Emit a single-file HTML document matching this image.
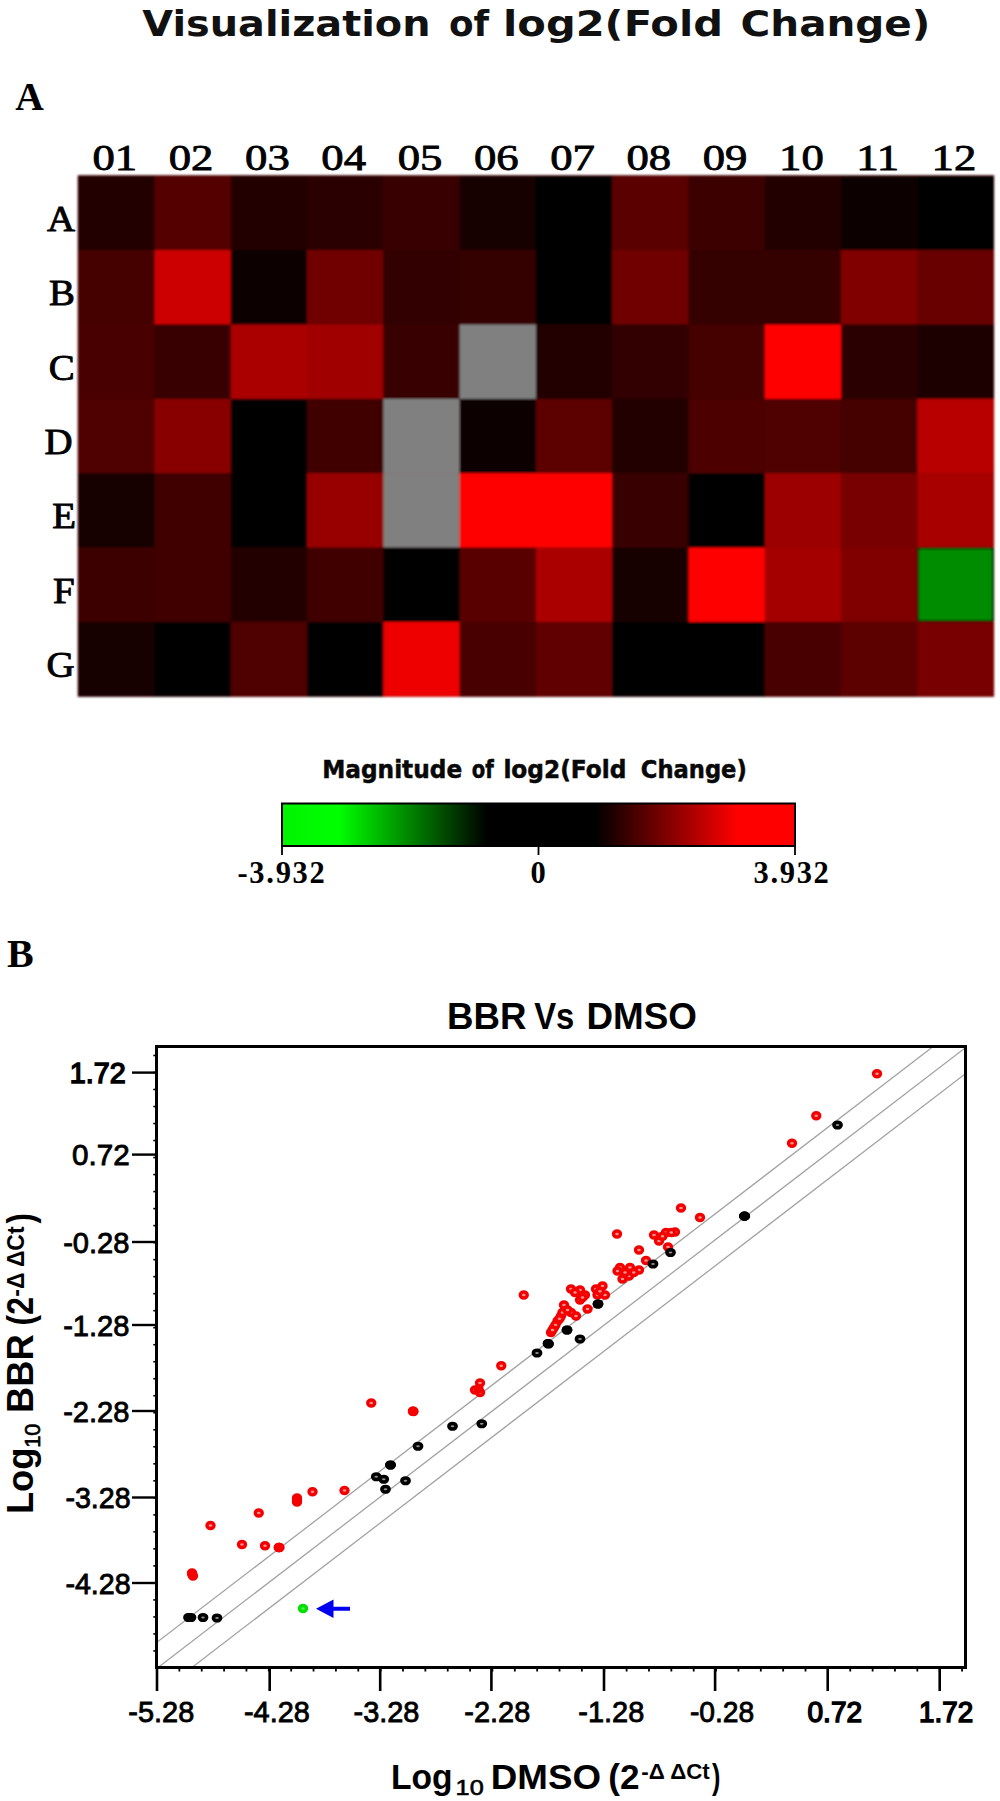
<!DOCTYPE html>
<html lang="en">
<head>
<meta charset="utf-8">
<title>Visualization of log2(Fold Change)</title>
<style>
html,body{margin:0;padding:0;background:#fff;}
body{width:1000px;height:1801px;overflow:hidden;position:relative;}
svg{position:absolute;left:0;top:0;display:block;}
.sans{font-family:"Liberation Sans",sans-serif;}
.serif{font-family:"Liberation Serif",serif;}
.dv{font-family:"DejaVu Sans","Liberation Sans",sans-serif;}
</style>
</head>
<body>
<svg width="1000" height="1801" viewBox="0 0 1000 1801">
<defs>
<linearGradient id="cb" x1="0" y1="0" x2="1" y2="0">
<stop offset="0" stop-color="#00f400"/>
<stop offset="0.11" stop-color="#00ff00"/>
<stop offset="0.40" stop-color="#000000"/>
<stop offset="0.61" stop-color="#000000"/>
<stop offset="0.89" stop-color="#ff0000"/>
<stop offset="1" stop-color="#ff0000"/>
</linearGradient>
<filter id="soft" x="-2%" y="-2%" width="104%" height="104%"><feGaussianBlur stdDeviation="0.8"/></filter>
<filter id="soft2" x="-5%" y="-5%" width="110%" height="110%"><feGaussianBlur stdDeviation="0.45"/></filter>
</defs>

<g id="panelA">
<text class="dv" y="35.5" font-size="35" font-weight="700" fill="#111"><tspan x="142.3" textLength="288.21" lengthAdjust="spacingAndGlyphs">Visualization</tspan> <tspan x="448.98" textLength="40.15" lengthAdjust="spacingAndGlyphs">of</tspan> <tspan x="503.07" textLength="219.94" lengthAdjust="spacingAndGlyphs">log2(Fold</tspan> <tspan x="740.57" textLength="189.81" lengthAdjust="spacingAndGlyphs">Change)</tspan></text>
<text class="serif" x="29.5" y="109.8" font-size="39.5" font-weight="700" text-anchor="middle">A</text>
<g filter="url(#soft)">
<rect x="77.7" y="175.3" width="916.4" height="521.4" fill="#500000"/>
<rect x="78.2" y="175.8" width="76.58" height="74.64" fill="#200000"/>
<rect x="154.48" y="175.8" width="76.58" height="74.64" fill="#550000"/>
<rect x="230.77" y="175.8" width="76.58" height="74.64" fill="#200000"/>
<rect x="307.05" y="175.8" width="76.58" height="74.64" fill="#2a0000"/>
<rect x="383.33" y="175.8" width="76.58" height="74.64" fill="#380000"/>
<rect x="459.62" y="175.8" width="76.58" height="74.64" fill="#140000"/>
<rect x="535.9" y="175.8" width="76.58" height="74.64" fill="#000000"/>
<rect x="612.18" y="175.8" width="76.58" height="74.64" fill="#5a0000"/>
<rect x="688.47" y="175.8" width="76.58" height="74.64" fill="#3e0000"/>
<rect x="764.75" y="175.8" width="76.58" height="74.64" fill="#220000"/>
<rect x="841.03" y="175.8" width="76.58" height="74.64" fill="#0c0000"/>
<rect x="917.32" y="175.8" width="76.58" height="74.64" fill="#000000"/>
<rect x="78.2" y="250.14" width="76.58" height="74.64" fill="#450000"/>
<rect x="154.48" y="250.14" width="76.58" height="74.64" fill="#cc0000"/>
<rect x="230.77" y="250.14" width="76.58" height="74.64" fill="#0c0000"/>
<rect x="307.05" y="250.14" width="76.58" height="74.64" fill="#700000"/>
<rect x="383.33" y="250.14" width="76.58" height="74.64" fill="#300000"/>
<rect x="459.62" y="250.14" width="76.58" height="74.64" fill="#350000"/>
<rect x="535.9" y="250.14" width="76.58" height="74.64" fill="#040000"/>
<rect x="612.18" y="250.14" width="76.58" height="74.64" fill="#700000"/>
<rect x="688.47" y="250.14" width="76.58" height="74.64" fill="#350000"/>
<rect x="764.75" y="250.14" width="76.58" height="74.64" fill="#350000"/>
<rect x="841.03" y="250.14" width="76.58" height="74.64" fill="#800000"/>
<rect x="917.32" y="250.14" width="76.58" height="74.64" fill="#680000"/>
<rect x="78.2" y="324.49" width="76.58" height="74.64" fill="#480000"/>
<rect x="154.48" y="324.49" width="76.58" height="74.64" fill="#380000"/>
<rect x="230.77" y="324.49" width="76.58" height="74.64" fill="#aa0000"/>
<rect x="307.05" y="324.49" width="76.58" height="74.64" fill="#a00000"/>
<rect x="383.33" y="324.49" width="76.58" height="74.64" fill="#380000"/>
<rect x="459.62" y="324.49" width="76.58" height="74.64" fill="#808080"/>
<rect x="535.9" y="324.49" width="76.58" height="74.64" fill="#200000"/>
<rect x="612.18" y="324.49" width="76.58" height="74.64" fill="#300000"/>
<rect x="688.47" y="324.49" width="76.58" height="74.64" fill="#440000"/>
<rect x="764.75" y="324.49" width="76.58" height="74.64" fill="#ff0000"/>
<rect x="841.03" y="324.49" width="76.58" height="74.64" fill="#2a0000"/>
<rect x="917.32" y="324.49" width="76.58" height="74.64" fill="#1c0000"/>
<rect x="78.2" y="398.83" width="76.58" height="74.64" fill="#500000"/>
<rect x="154.48" y="398.83" width="76.58" height="74.64" fill="#880000"/>
<rect x="230.77" y="398.83" width="76.58" height="74.64" fill="#000000"/>
<rect x="307.05" y="398.83" width="76.58" height="74.64" fill="#400000"/>
<rect x="383.33" y="398.83" width="76.58" height="74.64" fill="#808080"/>
<rect x="459.62" y="398.83" width="76.58" height="74.64" fill="#100000"/>
<rect x="535.9" y="398.83" width="76.58" height="74.64" fill="#5c0000"/>
<rect x="612.18" y="398.83" width="76.58" height="74.64" fill="#200000"/>
<rect x="688.47" y="398.83" width="76.58" height="74.64" fill="#4e0000"/>
<rect x="764.75" y="398.83" width="76.58" height="74.64" fill="#500000"/>
<rect x="841.03" y="398.83" width="76.58" height="74.64" fill="#440000"/>
<rect x="917.32" y="398.83" width="76.58" height="74.64" fill="#b80000"/>
<rect x="78.2" y="473.17" width="76.58" height="74.64" fill="#150000"/>
<rect x="154.48" y="473.17" width="76.58" height="74.64" fill="#400000"/>
<rect x="230.77" y="473.17" width="76.58" height="74.64" fill="#000000"/>
<rect x="307.05" y="473.17" width="76.58" height="74.64" fill="#980000"/>
<rect x="383.33" y="473.17" width="76.58" height="74.64" fill="#808080"/>
<rect x="459.62" y="473.17" width="76.58" height="74.64" fill="#ff0000"/>
<rect x="535.9" y="473.17" width="76.58" height="74.64" fill="#ff0000"/>
<rect x="612.18" y="473.17" width="76.58" height="74.64" fill="#380000"/>
<rect x="688.47" y="473.17" width="76.58" height="74.64" fill="#000000"/>
<rect x="764.75" y="473.17" width="76.58" height="74.64" fill="#9c0000"/>
<rect x="841.03" y="473.17" width="76.58" height="74.64" fill="#780000"/>
<rect x="917.32" y="473.17" width="76.58" height="74.64" fill="#a80000"/>
<rect x="78.2" y="547.51" width="76.58" height="74.64" fill="#3e0000"/>
<rect x="154.48" y="547.51" width="76.58" height="74.64" fill="#400000"/>
<rect x="230.77" y="547.51" width="76.58" height="74.64" fill="#200000"/>
<rect x="307.05" y="547.51" width="76.58" height="74.64" fill="#400000"/>
<rect x="383.33" y="547.51" width="76.58" height="74.64" fill="#000000"/>
<rect x="459.62" y="547.51" width="76.58" height="74.64" fill="#580000"/>
<rect x="535.9" y="547.51" width="76.58" height="74.64" fill="#aa0000"/>
<rect x="612.18" y="547.51" width="76.58" height="74.64" fill="#180000"/>
<rect x="688.47" y="547.51" width="76.58" height="74.64" fill="#ff0000"/>
<rect x="764.75" y="547.51" width="76.58" height="74.64" fill="#a40000"/>
<rect x="841.03" y="547.51" width="76.58" height="74.64" fill="#800000"/>
<rect x="917.32" y="547.51" width="76.58" height="74.64" fill="#008c00"/>
<rect x="78.2" y="621.86" width="76.58" height="74.64" fill="#150000"/>
<rect x="154.48" y="621.86" width="76.58" height="74.64" fill="#000000"/>
<rect x="230.77" y="621.86" width="76.58" height="74.64" fill="#500000"/>
<rect x="307.05" y="621.86" width="76.58" height="74.64" fill="#000000"/>
<rect x="383.33" y="621.86" width="76.58" height="74.64" fill="#ee0000"/>
<rect x="459.62" y="621.86" width="76.58" height="74.64" fill="#4a0000"/>
<rect x="535.9" y="621.86" width="76.58" height="74.64" fill="#600000"/>
<rect x="612.18" y="621.86" width="76.58" height="74.64" fill="#000000"/>
<rect x="688.47" y="621.86" width="76.58" height="74.64" fill="#000000"/>
<rect x="764.75" y="621.86" width="76.58" height="74.64" fill="#480000"/>
<rect x="841.03" y="621.86" width="76.58" height="74.64" fill="#5c0000"/>
<rect x="917.32" y="621.86" width="76.58" height="74.64" fill="#780000"/>
<rect x="918.12" y="548.31" width="74.68" height="72.74" fill="none" stroke="#000" stroke-width="1.6"/>
</g>
<text class="serif" transform="translate(114.84,170.2) scale(1.27,1)" font-size="35.2" text-anchor="middle" stroke="#000" stroke-width="0.8">01</text>
<text class="serif" transform="translate(191.12,170.2) scale(1.27,1)" font-size="35.2" text-anchor="middle" stroke="#000" stroke-width="0.8">02</text>
<text class="serif" transform="translate(267.41,170.2) scale(1.27,1)" font-size="35.2" text-anchor="middle" stroke="#000" stroke-width="0.8">03</text>
<text class="serif" transform="translate(343.69,170.2) scale(1.27,1)" font-size="35.2" text-anchor="middle" stroke="#000" stroke-width="0.8">04</text>
<text class="serif" transform="translate(419.97,170.2) scale(1.27,1)" font-size="35.2" text-anchor="middle" stroke="#000" stroke-width="0.8">05</text>
<text class="serif" transform="translate(496.26,170.2) scale(1.27,1)" font-size="35.2" text-anchor="middle" stroke="#000" stroke-width="0.8">06</text>
<text class="serif" transform="translate(572.54,170.2) scale(1.27,1)" font-size="35.2" text-anchor="middle" stroke="#000" stroke-width="0.8">07</text>
<text class="serif" transform="translate(648.83,170.2) scale(1.27,1)" font-size="35.2" text-anchor="middle" stroke="#000" stroke-width="0.8">08</text>
<text class="serif" transform="translate(725.11,170.2) scale(1.27,1)" font-size="35.2" text-anchor="middle" stroke="#000" stroke-width="0.8">09</text>
<text class="serif" transform="translate(801.39,170.2) scale(1.27,1)" font-size="35.2" text-anchor="middle" stroke="#000" stroke-width="0.8">10</text>
<text class="serif" transform="translate(877.68,170.2) scale(1.27,1)" font-size="35.2" text-anchor="middle" stroke="#000" stroke-width="0.8">11</text>
<text class="serif" transform="translate(953.96,170.2) scale(1.27,1)" font-size="35.2" text-anchor="middle" stroke="#000" stroke-width="0.8">12</text>
<text class="serif" transform="translate(75.1,230.97) scale(1.08,1)" font-size="36" text-anchor="end" stroke="#000" stroke-width="0.9">A</text>
<text class="serif" transform="translate(74.9,305.31) scale(1.08,1)" font-size="36" text-anchor="end" stroke="#000" stroke-width="0.9">B</text>
<text class="serif" transform="translate(74.6,379.66) scale(1.08,1)" font-size="36" text-anchor="end" stroke="#000" stroke-width="0.9">C</text>
<text class="serif" transform="translate(72.6,454) scale(1.08,1)" font-size="36" text-anchor="end" stroke="#000" stroke-width="0.9">D</text>
<text class="serif" transform="translate(76.1,528.34) scale(1.08,1)" font-size="36" text-anchor="end" stroke="#000" stroke-width="0.9">E</text>
<text class="serif" transform="translate(74.6,602.69) scale(1.08,1)" font-size="36" text-anchor="end" stroke="#000" stroke-width="0.9">F</text>
<text class="serif" transform="translate(74.6,677.03) scale(1.08,1)" font-size="36" text-anchor="end" stroke="#000" stroke-width="0.9">G</text>
<text class="dv" y="778.4" font-size="24" font-weight="700" fill="#080808" stroke="#080808" stroke-width="0.5"><tspan x="322.16" textLength="139.99" lengthAdjust="spacingAndGlyphs">Magnitude</tspan> <tspan x="471.67" textLength="22.03" lengthAdjust="spacingAndGlyphs">of</tspan> <tspan x="503.38" textLength="123.08" lengthAdjust="spacingAndGlyphs">log2(Fold</tspan> <tspan x="640.83" textLength="105.97" lengthAdjust="spacingAndGlyphs">Change)</tspan></text>
<rect x="282" y="803.5" width="513" height="42.5" fill="url(#cb)" stroke="#000" stroke-width="2"/>
<rect x="281.1" y="846" width="1.8" height="9" fill="#000"/>
<rect x="537.6" y="846" width="1.8" height="9" fill="#000"/>
<rect x="794.1" y="846" width="1.8" height="9" fill="#000"/>
<text class="serif" x="282" y="882.5" font-size="30.5" font-weight="700" text-anchor="middle" letter-spacing="1.7">-3.932</text>
<text class="serif" x="538" y="882.5" font-size="30.5" font-weight="700" text-anchor="middle">0</text>
<text class="serif" x="792" y="882.5" font-size="30.5" font-weight="700" text-anchor="middle" letter-spacing="1.7">3.932</text>
</g>
<g id="panelB">
<text class="serif" x="20.3" y="967.2" font-size="40" font-weight="700" text-anchor="middle">B</text>
<text class="sans" y="1028.7" font-size="36.2" font-weight="700"><tspan x="447.12" textLength="79.48" lengthAdjust="spacingAndGlyphs">BBR</tspan> <tspan x="534.14" textLength="40.12" lengthAdjust="spacingAndGlyphs">Vs</tspan> <tspan x="586.51" textLength="110.47" lengthAdjust="spacingAndGlyphs">DMSO</tspan></text>
<clipPath id="pc"><rect x="156.5" y="1046.5" width="809" height="621"/></clipPath>
<g stroke="#a2a2a2" stroke-width="1.25" fill="none" clip-path="url(#pc)">
<line x1="116.5" y1="1699.4" x2="1005.5" y2="1017"/>
<line x1="116.5" y1="1673.4" x2="1005.5" y2="991"/>
<line x1="116.5" y1="1725.4" x2="1005.5" y2="1043"/>
</g>
<g filter="url(#soft2)">
<g fill="#ff9090" stroke="#f40000" stroke-width="3.4">
<ellipse cx="192" cy="1573" rx="3.5" ry="3"/>
<ellipse cx="193" cy="1576" rx="3.5" ry="3"/>
<ellipse cx="210.5" cy="1525.5" rx="3.5" ry="3"/>
<ellipse cx="242" cy="1544.5" rx="3.5" ry="3"/>
<ellipse cx="258.75" cy="1513" rx="3.5" ry="3"/>
<ellipse cx="265" cy="1545.75" rx="3.5" ry="3"/>
<ellipse cx="278.75" cy="1547.5" rx="3.5" ry="3"/>
<ellipse cx="279.5" cy="1547.5" rx="3.5" ry="3"/>
<ellipse cx="297" cy="1498" rx="3.5" ry="3"/>
<ellipse cx="297" cy="1502" rx="3.5" ry="3"/>
<ellipse cx="312.5" cy="1491.75" rx="3.5" ry="3"/>
<ellipse cx="344.5" cy="1490.5" rx="3.5" ry="3"/>
<ellipse cx="371.25" cy="1403" rx="3.5" ry="3"/>
<ellipse cx="413" cy="1411.25" rx="3.5" ry="3"/>
<ellipse cx="413.5" cy="1411.5" rx="3.5" ry="3"/>
<ellipse cx="480" cy="1383" rx="3.5" ry="3"/>
<ellipse cx="475" cy="1390" rx="3.5" ry="3"/>
<ellipse cx="480" cy="1392.5" rx="3.5" ry="3"/>
<ellipse cx="501.25" cy="1365.75" rx="3.5" ry="3"/>
<ellipse cx="523.75" cy="1295" rx="3.5" ry="3"/>
<ellipse cx="551" cy="1332.5" rx="3.5" ry="3"/>
<ellipse cx="554" cy="1327.5" rx="3.5" ry="3"/>
<ellipse cx="557.5" cy="1321" rx="3.5" ry="3"/>
<ellipse cx="561" cy="1316" rx="3.5" ry="3"/>
<ellipse cx="564" cy="1305" rx="3.5" ry="3"/>
<ellipse cx="571" cy="1312.5" rx="3.5" ry="3"/>
<ellipse cx="576" cy="1316" rx="3.5" ry="3"/>
<ellipse cx="587.5" cy="1309" rx="3.5" ry="3"/>
<ellipse cx="580" cy="1300" rx="3.5" ry="3"/>
<ellipse cx="585" cy="1295" rx="3.5" ry="3"/>
<ellipse cx="571" cy="1289" rx="3.5" ry="3"/>
<ellipse cx="580" cy="1290" rx="3.5" ry="3"/>
<ellipse cx="596" cy="1289" rx="3.5" ry="3"/>
<ellipse cx="602.5" cy="1286" rx="3.5" ry="3"/>
<ellipse cx="605" cy="1295" rx="3.5" ry="3"/>
<ellipse cx="597.5" cy="1295" rx="3.5" ry="3"/>
<ellipse cx="617" cy="1234" rx="3.5" ry="3"/>
<ellipse cx="620" cy="1267.5" rx="3.5" ry="3"/>
<ellipse cx="622.5" cy="1279" rx="3.5" ry="3"/>
<ellipse cx="629" cy="1276" rx="3.5" ry="3"/>
<ellipse cx="630" cy="1267.5" rx="3.5" ry="3"/>
<ellipse cx="639" cy="1270" rx="3.5" ry="3"/>
<ellipse cx="617.5" cy="1271" rx="3.5" ry="3"/>
<ellipse cx="639" cy="1250" rx="3.5" ry="3"/>
<ellipse cx="646" cy="1260.5" rx="3.5" ry="3"/>
<ellipse cx="654" cy="1235" rx="3.5" ry="3"/>
<ellipse cx="659" cy="1241" rx="3.5" ry="3"/>
<ellipse cx="666" cy="1232.5" rx="3.5" ry="3"/>
<ellipse cx="675" cy="1232" rx="3.5" ry="3"/>
<ellipse cx="668" cy="1247" rx="3.5" ry="3"/>
<ellipse cx="681" cy="1208" rx="3.5" ry="3"/>
<ellipse cx="700" cy="1217.5" rx="3.5" ry="3"/>
<ellipse cx="877" cy="1073.75" rx="3.5" ry="3"/>
<ellipse cx="816.25" cy="1115.75" rx="3.5" ry="3"/>
<ellipse cx="792" cy="1143.25" rx="3.5" ry="3"/>
<ellipse cx="555.5" cy="1325" rx="3.5" ry="3"/>
<ellipse cx="559.5" cy="1318.75" rx="3.5" ry="3"/>
<ellipse cx="552.5" cy="1330" rx="3.5" ry="3"/>
<ellipse cx="575" cy="1292.5" rx="3.5" ry="3"/>
<ellipse cx="582.5" cy="1297.5" rx="3.5" ry="3"/>
<ellipse cx="600" cy="1291.25" rx="3.5" ry="3"/>
<ellipse cx="625" cy="1272.5" rx="3.5" ry="3"/>
<ellipse cx="633.75" cy="1272.5" rx="3.5" ry="3"/>
<ellipse cx="662.5" cy="1236.25" rx="3.5" ry="3"/>
<ellipse cx="671.25" cy="1232.5" rx="3.5" ry="3"/>
<ellipse cx="562.5" cy="1312.5" rx="3.5" ry="3"/>
<ellipse cx="567.5" cy="1310" rx="3.5" ry="3"/>
</g>
<g fill="#909090" stroke="#000000" stroke-width="3.6">
<ellipse cx="188.5" cy="1617.5" rx="3.6" ry="2.8"/>
<ellipse cx="191" cy="1617.5" rx="3.6" ry="2.8"/>
<ellipse cx="203" cy="1617.5" rx="3.6" ry="2.8"/>
<ellipse cx="217" cy="1618" rx="3.6" ry="2.8"/>
<ellipse cx="376.25" cy="1476.75" rx="3.6" ry="2.8"/>
<ellipse cx="383.75" cy="1479.25" rx="3.6" ry="2.8"/>
<ellipse cx="385.5" cy="1489.25" rx="3.6" ry="2.8"/>
<ellipse cx="390.5" cy="1465" rx="3.6" ry="2.8"/>
<ellipse cx="405.5" cy="1480.75" rx="3.6" ry="2.8"/>
<ellipse cx="418" cy="1446.25" rx="3.6" ry="2.8"/>
<ellipse cx="452.5" cy="1426.25" rx="3.6" ry="2.8"/>
<ellipse cx="481.75" cy="1423.75" rx="3.6" ry="2.8"/>
<ellipse cx="537" cy="1353" rx="3.6" ry="2.8"/>
<ellipse cx="548" cy="1343.5" rx="3.6" ry="2.8"/>
<ellipse cx="548.5" cy="1344" rx="3.6" ry="2.8"/>
<ellipse cx="567" cy="1330" rx="3.6" ry="2.8"/>
<ellipse cx="580" cy="1339" rx="3.6" ry="2.8"/>
<ellipse cx="598" cy="1304" rx="3.6" ry="2.8"/>
<ellipse cx="653" cy="1264" rx="3.6" ry="2.8"/>
<ellipse cx="670.5" cy="1252.5" rx="3.6" ry="2.8"/>
<ellipse cx="744.3" cy="1216.2" rx="3.6" ry="2.8"/>
<ellipse cx="744.8" cy="1216.2" rx="3.6" ry="2.8"/>
<ellipse cx="837.5" cy="1125" rx="3.6" ry="2.8"/>
</g>
<g fill="#f40000" stroke="#f40000" stroke-width="3.4">
<ellipse cx="413" cy="1411.25" rx="3.5" ry="3"/>
<ellipse cx="279" cy="1547.5" rx="3.5" ry="3"/>
<ellipse cx="192.3" cy="1574.5" rx="3.5" ry="3"/>
<ellipse cx="297" cy="1500" rx="3.5" ry="3"/>
<ellipse cx="478.5" cy="1389" rx="3.5" ry="3"/>
</g>
<g fill="#000" stroke="#000" stroke-width="3.6">
<ellipse cx="390.5" cy="1465" rx="3.6" ry="2.8"/>
<ellipse cx="548.2" cy="1343.7" rx="3.6" ry="2.8"/>
<ellipse cx="744.5" cy="1216.2" rx="3.6" ry="2.8"/>
<ellipse cx="189.5" cy="1617.5" rx="3.6" ry="2.8"/>
<ellipse cx="598" cy="1304" rx="3.6" ry="2.8"/>
<ellipse cx="567" cy="1330" rx="3.6" ry="2.8"/>
</g>
<g fill="#50f050" stroke="#00e000" stroke-width="3.4">
<ellipse cx="303" cy="1608.5" rx="3.5" ry="3"/>
</g>
<path d="M316,1608.7 L333.5,1599.5 L333.5,1606.7 L350,1606.7 L350,1610.7 L333.5,1610.7 L333.5,1618 Z" fill="#0000f0"/>
</g>
<rect x="156.5" y="1046.5" width="809" height="621" fill="none" stroke="#000" stroke-width="3"/>
<g fill="#000">
<rect x="132" y="1071.4" width="24" height="2.4"/>
<rect x="132" y="1153.4" width="24" height="2.4"/>
<rect x="132" y="1240.8" width="24" height="2.4"/>
<rect x="132" y="1323.8" width="24" height="2.4"/>
<rect x="132" y="1409.8" width="24" height="2.4"/>
<rect x="132" y="1496.3" width="24" height="2.4"/>
<rect x="132" y="1581.8" width="24" height="2.4"/>
<rect x="153.3" y="1054.69" width="3" height="1.6"/>
<rect x="153.3" y="1071.7" width="3" height="1.6"/>
<rect x="153.3" y="1088.71" width="3" height="1.6"/>
<rect x="153.3" y="1105.73" width="3" height="1.6"/>
<rect x="153.3" y="1122.74" width="3" height="1.6"/>
<rect x="153.3" y="1139.75" width="3" height="1.6"/>
<rect x="153.3" y="1156.77" width="3" height="1.6"/>
<rect x="153.3" y="1173.78" width="3" height="1.6"/>
<rect x="153.3" y="1190.79" width="3" height="1.6"/>
<rect x="153.3" y="1207.81" width="3" height="1.6"/>
<rect x="153.3" y="1224.82" width="3" height="1.6"/>
<rect x="153.3" y="1241.83" width="3" height="1.6"/>
<rect x="153.3" y="1258.85" width="3" height="1.6"/>
<rect x="153.3" y="1275.86" width="3" height="1.6"/>
<rect x="153.3" y="1292.87" width="3" height="1.6"/>
<rect x="153.3" y="1309.89" width="3" height="1.6"/>
<rect x="153.3" y="1326.9" width="3" height="1.6"/>
<rect x="153.3" y="1343.91" width="3" height="1.6"/>
<rect x="153.3" y="1360.93" width="3" height="1.6"/>
<rect x="153.3" y="1377.94" width="3" height="1.6"/>
<rect x="153.3" y="1394.95" width="3" height="1.6"/>
<rect x="153.3" y="1411.97" width="3" height="1.6"/>
<rect x="153.3" y="1428.98" width="3" height="1.6"/>
<rect x="153.3" y="1445.99" width="3" height="1.6"/>
<rect x="153.3" y="1463.01" width="3" height="1.6"/>
<rect x="153.3" y="1480.02" width="3" height="1.6"/>
<rect x="153.3" y="1497.03" width="3" height="1.6"/>
<rect x="153.3" y="1514.05" width="3" height="1.6"/>
<rect x="153.3" y="1531.06" width="3" height="1.6"/>
<rect x="153.3" y="1548.07" width="3" height="1.6"/>
<rect x="153.3" y="1565.09" width="3" height="1.6"/>
<rect x="153.3" y="1582.1" width="3" height="1.6"/>
<rect x="153.3" y="1599.11" width="3" height="1.6"/>
<rect x="153.3" y="1616.13" width="3" height="1.6"/>
<rect x="153.3" y="1633.14" width="3" height="1.6"/>
<rect x="153.3" y="1650.15" width="3" height="1.6"/>
<rect x="155.7" y="1667" width="2.6" height="24"/>
<rect x="268.4" y="1667" width="2.6" height="24"/>
<rect x="378.9" y="1667" width="2.6" height="24"/>
<rect x="490.1" y="1667" width="2.6" height="24"/>
<rect x="602.7" y="1667" width="2.6" height="24"/>
<rect x="713.8" y="1667" width="2.6" height="24"/>
<rect x="826.4" y="1667" width="2.6" height="24"/>
<rect x="938.4" y="1667" width="2.6" height="24"/>
<rect x="156.1" y="1667" width="1.8" height="4.5"/>
<rect x="178.46" y="1667" width="1.8" height="4.5"/>
<rect x="200.83" y="1667" width="1.8" height="4.5"/>
<rect x="223.19" y="1667" width="1.8" height="4.5"/>
<rect x="245.55" y="1667" width="1.8" height="4.5"/>
<rect x="267.91" y="1667" width="1.8" height="4.5"/>
<rect x="290.28" y="1667" width="1.8" height="4.5"/>
<rect x="312.64" y="1667" width="1.8" height="4.5"/>
<rect x="335" y="1667" width="1.8" height="4.5"/>
<rect x="357.37" y="1667" width="1.8" height="4.5"/>
<rect x="379.73" y="1667" width="1.8" height="4.5"/>
<rect x="402.09" y="1667" width="1.8" height="4.5"/>
<rect x="424.45" y="1667" width="1.8" height="4.5"/>
<rect x="446.82" y="1667" width="1.8" height="4.5"/>
<rect x="469.18" y="1667" width="1.8" height="4.5"/>
<rect x="491.54" y="1667" width="1.8" height="4.5"/>
<rect x="513.91" y="1667" width="1.8" height="4.5"/>
<rect x="536.27" y="1667" width="1.8" height="4.5"/>
<rect x="558.63" y="1667" width="1.8" height="4.5"/>
<rect x="580.99" y="1667" width="1.8" height="4.5"/>
<rect x="603.36" y="1667" width="1.8" height="4.5"/>
<rect x="625.72" y="1667" width="1.8" height="4.5"/>
<rect x="648.08" y="1667" width="1.8" height="4.5"/>
<rect x="670.45" y="1667" width="1.8" height="4.5"/>
<rect x="692.81" y="1667" width="1.8" height="4.5"/>
<rect x="715.17" y="1667" width="1.8" height="4.5"/>
<rect x="737.53" y="1667" width="1.8" height="4.5"/>
<rect x="759.9" y="1667" width="1.8" height="4.5"/>
<rect x="782.26" y="1667" width="1.8" height="4.5"/>
<rect x="804.62" y="1667" width="1.8" height="4.5"/>
<rect x="826.99" y="1667" width="1.8" height="4.5"/>
<rect x="849.35" y="1667" width="1.8" height="4.5"/>
<rect x="871.71" y="1667" width="1.8" height="4.5"/>
<rect x="894.07" y="1667" width="1.8" height="4.5"/>
<rect x="916.44" y="1667" width="1.8" height="4.5"/>
<rect x="938.8" y="1667" width="1.8" height="4.5"/>
<rect x="961.16" y="1667" width="1.8" height="4.5"/>
</g>
<g stroke="#000" stroke-width="0.85">
<text class="sans" x="69.85" y="1083.3" font-size="28.8" font-weight="400" textLength="55.85" lengthAdjust="spacingAndGlyphs" stroke-width="1.5">1.72</text>
<text class="sans" x="71.99" y="1165.3" font-size="28.8" font-weight="400" textLength="57.66" lengthAdjust="spacingAndGlyphs">0.72</text>
<text class="sans" x="63.16" y="1252.7" font-size="28.8" font-weight="400" textLength="66.25" lengthAdjust="spacingAndGlyphs">-0.28</text>
<text class="sans" x="63.16" y="1335.7" font-size="28.8" font-weight="400" textLength="66.25" lengthAdjust="spacingAndGlyphs">-1.28</text>
<text class="sans" x="63.16" y="1421.7" font-size="28.8" font-weight="400" textLength="66.25" lengthAdjust="spacingAndGlyphs">-2.28</text>
<text class="sans" x="65.38" y="1508.2" font-size="28.8" font-weight="400" textLength="65.21" lengthAdjust="spacingAndGlyphs">-3.28</text>
<text class="sans" x="65.38" y="1593.7" font-size="28.8" font-weight="400" textLength="65.21" lengthAdjust="spacingAndGlyphs">-4.28</text>
<text class="sans" x="128.37" y="1722" font-size="28.8" font-weight="400" textLength="65.84" lengthAdjust="spacingAndGlyphs">-5.28</text>
<text class="sans" x="243.97" y="1722" font-size="28.8" font-weight="400" textLength="65.84" lengthAdjust="spacingAndGlyphs">-4.28</text>
<text class="sans" x="353.57" y="1722" font-size="28.8" font-weight="400" textLength="65.84" lengthAdjust="spacingAndGlyphs">-3.28</text>
<text class="sans" x="464.37" y="1722" font-size="28.8" font-weight="400" textLength="65.84" lengthAdjust="spacingAndGlyphs">-2.28</text>
<text class="sans" x="578.37" y="1722" font-size="28.8" font-weight="400" textLength="65.94" lengthAdjust="spacingAndGlyphs">-1.28</text>
<text class="sans" x="689.9" y="1722" font-size="28.8" font-weight="400" textLength="64.28" lengthAdjust="spacingAndGlyphs">-0.28</text>
<text class="sans" x="807.55" y="1722" font-size="28.8" font-weight="400" textLength="54.52" lengthAdjust="spacingAndGlyphs" stroke-width="1.5">0.72</text>
<text class="sans" x="919.12" y="1722" font-size="28.8" font-weight="400" textLength="54.04" lengthAdjust="spacingAndGlyphs" stroke-width="1.5">1.72</text>
</g>
<text class="sans" transform="translate(392.6,1789)" font-size="34.5" font-weight="700"><tspan x="-1.68" y="0" font-size="34.5" font-weight="700" textLength="61.57" lengthAdjust="spacingAndGlyphs">Log</tspan><tspan x="63" y="6.4" font-size="21.5" font-weight="400" textLength="28.11" lengthAdjust="spacingAndGlyphs" stroke="#000" stroke-width="0.6">10</tspan> <tspan x="98.21" y="0" font-size="34.5" font-weight="700" textLength="110.16" lengthAdjust="spacingAndGlyphs">DMSO</tspan> <tspan x="215.73" y="0" font-size="34.5" font-weight="700" textLength="31.24" lengthAdjust="spacingAndGlyphs">(2</tspan><tspan x="248.76" y="-10.1" font-size="21.5" font-weight="700" textLength="68.39" lengthAdjust="spacingAndGlyphs">-Δ ΔCt</tspan><tspan x="319.4" y="0" font-size="34.5" font-weight="700" textLength="8.41" lengthAdjust="spacingAndGlyphs">)</tspan></text>
<text class="sans" transform="translate(33.3,1512.2) rotate(-90) scale(1,1.05)" font-size="34.5" font-weight="700"><tspan x="-1.86" y="0" font-size="34.5" font-weight="700" textLength="66.52" lengthAdjust="spacingAndGlyphs">Log</tspan><tspan x="64.36" y="6" font-size="21.5" font-weight="400" textLength="24.31" lengthAdjust="spacingAndGlyphs" stroke="#000" stroke-width="0.6">10</tspan> <tspan x="99.24" y="0" font-size="34.5" font-weight="700" textLength="78.75" lengthAdjust="spacingAndGlyphs">BBR</tspan> <tspan x="186.79" y="0" font-size="34.5" font-weight="700" textLength="28.36" lengthAdjust="spacingAndGlyphs">(2</tspan><tspan x="215.44" y="-9.3" font-size="22" font-weight="700" textLength="70.32" lengthAdjust="spacingAndGlyphs">-Δ ΔCt</tspan><tspan x="288.7" y="0" font-size="34.5" font-weight="700" textLength="10.28" lengthAdjust="spacingAndGlyphs">)</tspan></text>
</g>
</svg>
</body>
</html>
